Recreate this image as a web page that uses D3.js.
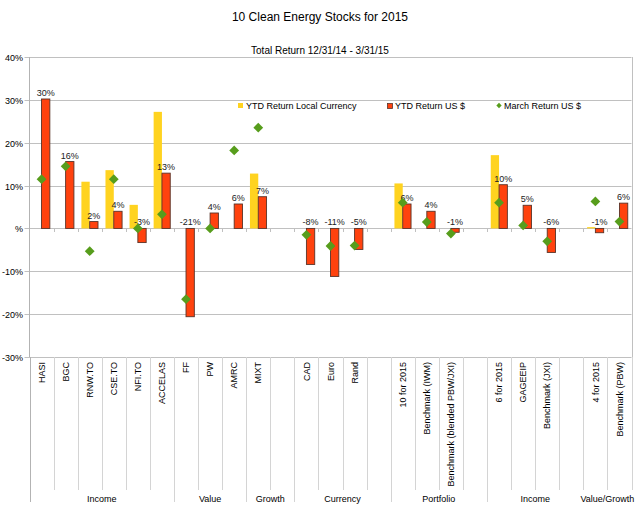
<!DOCTYPE html>
<html><head><meta charset="utf-8">
<script src="https://cdn.jsdelivr.net/npm/d3@7"></script>
<style>
body{margin:0;background:#fff;}
text{font-family:"Liberation Sans",Arial,sans-serif;fill:#000;}
</style></head>
<body><svg id="c" width="640" height="512"></svg>
<script>
// ---- data ----
const categories = ["HASI","BGC","RNW.TO","CSE.TO","NFI.TO","ACCELAS","FF","PW","AMRC","MIXT","",
  "CAD","Euro","Rand","","10 for 2015","Benchmark (IWM)","Benchmark (blended PBW/JXI)","",
  "6 for 2015","GAGEEIP","Benchmark (JXI)","","4 for 2015","Benchmark (PBW)"];
const ytdLocal = [null,null,10.9,13.6,5.5,27.2,null,null,null,12.8,null,
  null,null,null,null,10.5,null,null,null,17.1,null,null,null,0.3,null];
const ytdUS = [30.2,15.6,1.6,4.0,-3.3,12.9,-20.6,3.6,5.7,7.4,null,
  -8.4,-11.2,-4.9,null,5.7,4.0,-0.9,null,10.2,5.4,-5.6,null,-1.0,5.9];
const marchUS = [11.5,14.5,-5.3,11.5,0.0,3.3,-16.5,0.0,18.2,23.5,null,
  -1.5,-4.1,-4.0,null,6.0,1.5,-1.2,null,6.0,0.7,-3.0,null,6.3,1.6];
const groups = [{name:"Income",start:0,end:6},{name:"Value",start:6,end:9},{name:"Growth",start:9,end:11},
  {name:"Currency",start:11,end:15},{name:"Portfolio",start:15,end:19},{name:"Income",start:19,end:23},
  {name:"Value/Growth",start:23,end:25}];
const yTicks = [-30,-20,-10,0,10,20,30,40];
const yTickLabels = ["-30%","-20%","-10%","%","10%","20%","30%","40%"];
const seriesNames = ["YTD Return Local Currency","YTD Return US $","March Return US $"];
const colors = {local:"#ffd320", us:"#ff420e", march:"#579d1c"};

// ---- layout ----
const svg = d3.select("#c");
const L = 29.5, R = 631.5, T = 57, B = 357;
const idx = d3.range(categories.length);
const x = d3.scaleBand().domain(idx).range([L,R]).padding(0);
const inner = d3.scaleBand().domain(["local","us"]).range([0,x.bandwidth()]).paddingInner(0).paddingOuter(0.45);
const y = d3.scaleLinear().domain([-30,40]).range([B,T]);

// title
svg.append("text").attr("x",320).attr("y",21).attr("text-anchor","middle").style("font-size","12px").text("10 Clean Energy Stocks for 2015");
svg.append("text").attr("x",320).attr("y",54).attr("text-anchor","middle").style("font-size","10px").text("Total Return 12/31/14 - 3/31/15");

// grid lines
svg.append("g").selectAll("line").data(yTicks).join("line")
  .attr("x1",L-5).attr("x2",R).attr("y1",d=>Math.round(y(d))+0.5).attr("y2",d=>Math.round(y(d))+0.5)
  .attr("stroke","#c0c0c0").attr("stroke-width",1);
// y tick labels
svg.append("g").selectAll("text").data(yTicks).join("text")
  .attr("x",23).attr("y",d=>Math.round(y(d))+3.5).attr("text-anchor","end").style("font-size","9px")
  .text((d,i)=>yTickLabels[i]);

// category separators
const bounds = d3.range(categories.length+1).map(i=> i<categories.length ? x(i) : R);
const groupBounds = new Set([0,6,9,11,15,19]);
svg.append("g").selectAll("line").data(d3.range(categories.length+1)).join("line")
  .attr("x1",i=>Math.round(bounds[i])+0.5).attr("x2",i=>Math.round(bounds[i])+0.5)
  .attr("y1",B).attr("y2",i=>groupBounds.has(i)?502:490)
  .attr("stroke",i=>i===0?"#b3b3b3":"#d4d4d4").attr("stroke-width",1);
// ticks at zero
svg.append("g").selectAll("line").data(d3.range(1,categories.length)).join("line")
  .attr("x1",i=>Math.round(bounds[i])+0.5).attr("x2",i=>Math.round(bounds[i])+0.5)
  .attr("y1",Math.round(y(0))).attr("y2",Math.round(y(0))+4)
  .attr("stroke","#c0c0c0");
// left axis and right border
svg.append("line").attr("x1",L).attr("x2",L).attr("y1",T).attr("y2",B).attr("stroke","#b3b3b3");
svg.append("line").attr("x1",Math.round(R)+0.5).attr("x2",Math.round(R)+0.5).attr("y1",T).attr("y2",B).attr("stroke","#c0c0c0");

// bars local
svg.append("g").selectAll("rect").data(idx.filter(i=>ytdLocal[i]!==null)).join("rect")
  .attr("x",i=>x(i)+inner("local")).attr("width",inner.bandwidth())
  .attr("y",i=>y(Math.max(0,ytdLocal[i]))).attr("height",i=>Math.abs(y(ytdLocal[i])-y(0)))
  .attr("fill",colors.local);
// bars US
svg.append("g").selectAll("rect").data(idx.filter(i=>ytdUS[i]!==null)).join("rect")
  .attr("x",i=>x(i)+inner("us")).attr("width",inner.bandwidth())
  .attr("y",i=>y(Math.max(0,ytdUS[i]))).attr("height",i=>Math.abs(y(ytdUS[i])-y(0)))
  .attr("fill",colors.us).attr("stroke","#5a3328").attr("stroke-width",0.9);
// data labels
svg.append("g").selectAll("text").data(idx.filter(i=>ytdUS[i]!==null)).join("text")
  .attr("x",i=>x(i)+inner("us")+inner.bandwidth()/2)
  .attr("y",i=>y(Math.max(0,ytdUS[i]))-3)
  .attr("text-anchor","middle").style("font-size","9px").style("fill","#222")
  .text(i=>Math.round(ytdUS[i])+"%");
// march diamonds
const diamond = d3.symbol().type(d3.symbolSquare).size(48);
svg.append("g").selectAll("path").data(idx.filter(i=>marchUS[i]!==null)).join("path")
  .attr("d",diamond)
  .attr("transform",i=>`translate(${x(i)+x.bandwidth()/2},${y(marchUS[i])}) rotate(45)`)
  .attr("fill",colors.march);

// category labels
svg.append("g").selectAll("text").data(idx).join("text")
  .attr("transform",i=>`translate(${x(i)+x.bandwidth()/2},362) rotate(-90)`)
  .attr("dy","0.35em").attr("text-anchor","end").style("font-size","9px")
  .text(i=>categories[i]);
// group labels
svg.append("g").selectAll("text").data(groups).join("text")
  .attr("x",g=>(x(g.start)+(g.end<categories.length?x(g.end):R))/2).attr("y",502)
  .attr("text-anchor","middle").style("font-size","9px").text(g=>g.name);

// legend
const leg = svg.append("g");
leg.append("rect").attr("x",238).attr("y",103).attr("width",5).attr("height",5).attr("fill",colors.local);
leg.append("text").attr("x",246).attr("y",108.5).style("font-size","9px").text(seriesNames[0]);
leg.append("rect").attr("x",387.5).attr("y",103.5).attr("width",5).attr("height",5).attr("fill",colors.us).attr("stroke","#5a3328").attr("stroke-width",0.8);
leg.append("text").attr("x",395).attr("y",108.5).style("font-size","9px").text(seriesNames[1]);
leg.append("path").attr("d",d3.symbol().type(d3.symbolSquare).size(14)).attr("transform","translate(499,105.5) rotate(45)").attr("fill",colors.march);
leg.append("text").attr("x",504).attr("y",108.5).style("font-size","9px").text(seriesNames[2]);
</script></body></html>
